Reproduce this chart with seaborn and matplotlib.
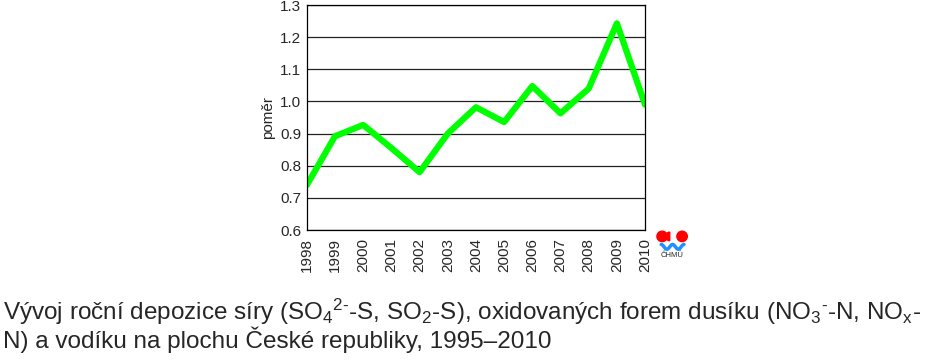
import matplotlib
matplotlib.use("Agg")
import matplotlib.pyplot as plt
import seaborn as sns
import pandas as pd
import numpy as np
from matplotlib.patches import Circle, Wedge

years = [1998, 1999, 2000, 2001, 2002, 2003, 2004, 2005, 2006, 2007, 2008, 2009, 2010]
ratio = [0.74, 0.892, 0.927, 0.855, 0.78, 0.90, 0.982, 0.936, 1.048, 0.963, 1.04, 1.243, 0.99]
yticks = [0.6, 0.7, 0.8, 0.9, 1.0, 1.1, 1.2, 1.3]
ylabel = "poměr"
caption1 = (r"Vývoj roční depozice síry (SO$\mathregular{_4}$$\mathregular{^{2\text{-}}}$-S, "
            r"SO$\mathregular{_2}$-S), oxidovaných forem dusíku (NO$\mathregular{_3}$$\mathregular{^{\text{-}}}$-N, NO$\mathregular{_x}$-")
caption2 = "N) a vodíku na plochu České republiky, 1995–2010"
logo_text = "ČHMÚ"

sns.set_theme(style="white")
plt.rcParams["font.family"] = ["Liberation Sans", "DejaVu Sans"]
plt.rcParams["mathtext.fontset"] = "custom"
plt.rcParams["mathtext.rm"] = "Liberation Sans"
plt.rcParams["mathtext.it"] = "Liberation Sans"

df = pd.DataFrame({"year": years, "ratio": ratio})
fig = plt.figure(figsize=(9.5, 3.6), dpi=100)
ax = fig.add_axes([0.323, 0.361, 0.356, 0.625])
sns.lineplot(data=df, x="year", y="ratio", ax=ax, color="#00ff00", linewidth=4.5)
ax.set_xlim(years[0], years[-1])
ax.set_ylim(0.6, 1.3)
ax.set_yticks(yticks)
ax.set_yticklabels([f"{v:.1f}" for v in yticks], fontsize=11)
ax.set_xticks(years)
ax.set_xticklabels([str(y) for y in years], rotation=90, fontsize=11)
ax.yaxis.grid(True, color="#222222", linewidth=0.9)
ax.set_axisbelow(True)
for s in ax.spines.values():
    s.set_color("black")
    s.set_linewidth(0.9)
ax.tick_params(axis="x", direction="out", length=4, width=0.9, color="black", pad=2)
ax.tick_params(axis="y", length=0, pad=4)
ax.set_xlabel("")
ax.set_ylabel(ylabel, fontsize=11, labelpad=4)

# logo
fa = fig.add_axes([0.690, 0.253, 0.045, 0.12])
fa.set_xlim(0, 45)
fa.set_ylim(0, 43)
fa.set_aspect("equal")
fa.axis("off")
fa.add_patch(Wedge((7, 33), 5.5, 0, 360, color="#ff0000"))
fa.add_patch(Wedge((15, 33), 4.5, 90, 270, color="#ff0000"))
fa.add_patch(Circle((28, 33), 5.5, color="#ff0000"))
wx = np.linspace(6, 30, 60)
wy = 22 + 2.5 * np.cos((wx - 6) / 12 * 2 * np.pi)
fa.plot(wx, wy, color="#1e90ff", linewidth=2.5)
fa.text(17, 13, logo_text, fontsize=5.5, ha="center", va="center")

fig.text(0.003, 0.034, caption1 + "\n" + caption2, fontsize=17.5, ha="left",
         va="baseline", linespacing=0.95)

fig.savefig("out.png", dpi=100)
